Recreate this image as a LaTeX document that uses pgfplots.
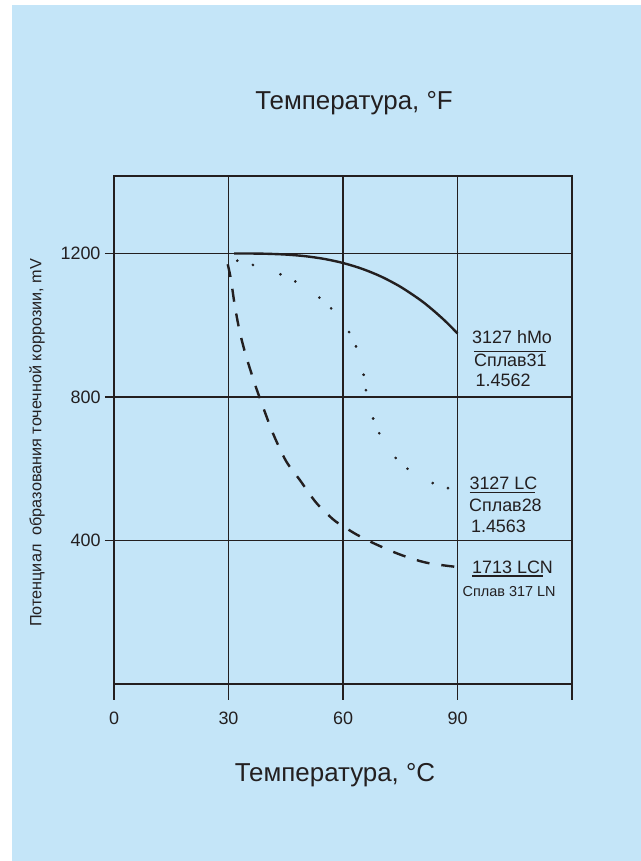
\documentclass[border=0pt]{standalone}
\usepackage{pgfplots}
\pgfplotsset{compat=1.18}
\usepackage{fontspec}
\setmainfont{Liberation Sans}
\definecolor{bgblue}{HTML}{C4E5F8}
\definecolor{ink}{HTML}{231F20}
\begin{document}
\begin{tikzpicture}
\path[use as bounding box] (0,0) rectangle (641bp,861bp);
\fill[white] (0,0) rectangle (641bp,861bp);
\fill[bgblue] (12bp,0) rectangle (641bp,856bp);
\begin{axis}[
  at={(114bp,177bp)}, anchor=south west,
  scale only axis, width=458bp, height=508bp,
  xmin=0, xmax=120, ymin=0, ymax=1416,
  axis line style={ink, line width=1.3bp},
  xtick=\empty,
  extra x ticks={0,30,60,90,120},
  extra x tick labels={0,30,60,90,{}},
  extra x tick style={grid=major, major tick length=16bp, tick align=outside, xtick pos=bottom},
  xtick pos=bottom, ytick pos=left,
  ytick={400,800,1200},
  ymajorgrids,
  major tick length=9bp, tick align=outside,
  tick style={ink, line width=1.3bp},
  grid style={ink, line width=1.3bp},
  ticklabel style={font=\fontsize{18}{21}\selectfont, text=ink},
  xticklabel style={yshift=-8bp},
  yticklabel style={xshift=-1bp},
  /pgf/number format/assume math mode=true,
  /pgf/number format/1000 sep={},
  clip=false,
]
% solid: 3127 hMo
\addplot[ink, line width=2.4bp, smooth, tension=0.5] coordinates {
(31.5,1200)(35,1200)(40,1199.2)(45,1197)(50,1192.6)(55,1185)(60,1173.5)
(65,1157.3)(70,1135.6)(75,1107.5)(80,1072.3)(83,1047.3)(86,1019.4)(88,999)(90,977)};
% dotted: 3127 LC
\addplot[only marks, mark=*, mark size=1.15bp, ink] coordinates {
(32.3,1180)(36.4,1168)(43.6,1142)(47.5,1122)(53.8,1077)(56.9,1047)
(61.6,981)(63.4,941)(65.4,862)(66.0,819)(67.9,740)(69.5,699)
(73.8,630)(76.9,600)(83.5,560)(87.5,546)};
% dashed: 1713 LCN
\addplot[ink, line width=2.4bp, dash pattern=on 13bp off 12bp, smooth, tension=0.5] coordinates {
(29.8,1170)(30.6,1130)(31.6,1058)(32.9,984)(34.6,914)(36.8,840)(38.1,800)
(41.6,700)(45.1,621)(48.6,570)(53,505)(57.4,459)(60,440)(63.5,417)
(67.9,393)(74.9,361)(81.9,338)(90,326)};
\begin{scope}[every node/.style={anchor=base west, inner sep=0pt, text=ink, font=\fontsize{18}{21}\selectfont}]
\node at (axis cs:93.8,948) {3127 hMo};
\node at (axis cs:94.3,886) {Сплав31};
\node at (axis cs:94.7,828) {1.4562};
\node at (axis cs:93.1,543) {3127 LC};
\node at (axis cs:93.0,481) {Сплав28};
\node at (axis cs:93.5,423) {1.4563};
\node at (axis cs:93.8,307) {1713 LCN};
\node[font=\fontsize{14.5}{17}\selectfont] at (axis cs:91.3,244) {Сплав 317 LN};
\end{scope}
\draw[ink, line width=1.1bp] (axis cs:94.3,928) -- (axis cs:113.1,928);
\draw[ink, line width=1.1bp] (axis cs:93.2,534) -- (axis cs:110.3,534);
\draw[ink, line width=1.1bp] (axis cs:93.8,301) -- (axis cs:112.4,301);
\end{axis}
\node[anchor=base, text=ink, font=\fontsize{26}{30}\selectfont] at (354bp,751bp) {Температура, °F};
\node[anchor=base, text=ink, font=\fontsize{26}{30}\selectfont] at (335bp,79bp) {Температура, °C};
\node[rotate=90, text=ink, font=\fontsize{16.3}{19}\selectfont] at (37bp,418bp) {Потенциал\ \ образования точечной коррозии, mV};
\end{tikzpicture}
\end{document}
